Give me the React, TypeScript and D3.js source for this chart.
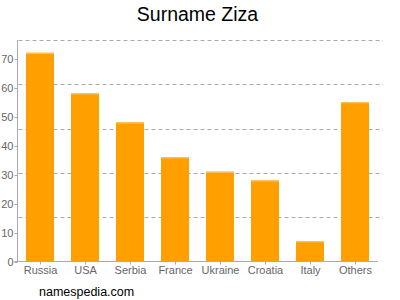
import React from "react";
import * as d3 from "d3";

const title = "Surname Ziza";
const footer = "namespedia.com";
const categories = ["Russia", "USA", "Serbia", "France", "Ukraine", "Croatia", "Italy", "Others"];
const values = [72, 58, 48, 36, 31, 28, 7, 55];
const yTicks = [0, 10, 20, 30, 40, 50, 60, 70];
const yMax = 76.4;
const gridDivisions = 5;

const W = 400;
const H = 300;
const left = 17.5;
const right = 377.5;
const top = 40;
const bottom = 261.5;

export default function App() {
  const x = d3
    .scaleBand<string>()
    .domain(categories)
    .range([left, right])
    .paddingInner(17 / 45)
    .paddingOuter(17 / 90);
  const y = d3.scaleLinear().domain([0, yMax]).range([bottom, top]);
  const gridYs = d3.range(1, gridDivisions + 1).map((i) => bottom - ((bottom - top) * i) / gridDivisions);
  const font = "'Liberation Sans', Arial, sans-serif";

  return (
    <svg
      width={W}
      height={H}
      style={{ position: "absolute", left: 0, top: 0, background: "#fff" }}
      fontFamily={font}
    >
      <text x={197.5} y={21} textAnchor="middle" fontSize={19.5} fill="#000">
        {title}
      </text>
      {gridYs.map((gy, i) => (
        <line
          key={"g" + i}
          x1={left + 1}
          x2={383}
          y1={Math.round(gy) + 0.5}
          y2={Math.round(gy) + 0.5}
          stroke="#aaa"
          strokeDasharray="4,3"
          strokeWidth={1}
        />
      ))}
      {categories.map((c, i) => {
        const bx = x(c)!;
        const by = y(values[i]);
        return (
          <g key={c}>
            <rect x={bx} y={by} width={x.bandwidth()} height={bottom - by} fill="#ffa000" />
            <rect x={bx} y={by} width={x.bandwidth()} height={1.2} fill="#ffc060" />
          </g>
        );
      })}
      <line x1={left} x2={left} y1={top} y2={bottom} stroke="#aaa" strokeWidth={1} />
      <line x1={left - 3} x2={378} y1={bottom} y2={bottom} stroke="#aaa" strokeWidth={1} />
      {yTicks.map((t) => (
        <g key={"t" + t}>
          <line x1={left - 3} x2={left} y1={Math.round(y(t)) + 0.5} y2={Math.round(y(t)) + 0.5} stroke="#aaa" />
          <text x={13.5} y={y(t) + 4} textAnchor="end" fontSize={11} fill="#666">
            {t}
          </text>
        </g>
      ))}
      {categories.map((c) => {
        const cx = Math.round(x(c)! + x.bandwidth() / 2) + 0.5;
        return (
          <g key={"x" + c}>
            <line x1={cx} x2={cx} y1={bottom} y2={bottom + 3} stroke="#aaa" />
            <text x={cx} y={274} textAnchor="middle" fontSize={11} fill="#666">
              {c}
            </text>
          </g>
        );
      })}
      <text x={39} y={296} fontSize={12.5} fill="#000">
        {footer}
      </text>
    </svg>
  );
}
